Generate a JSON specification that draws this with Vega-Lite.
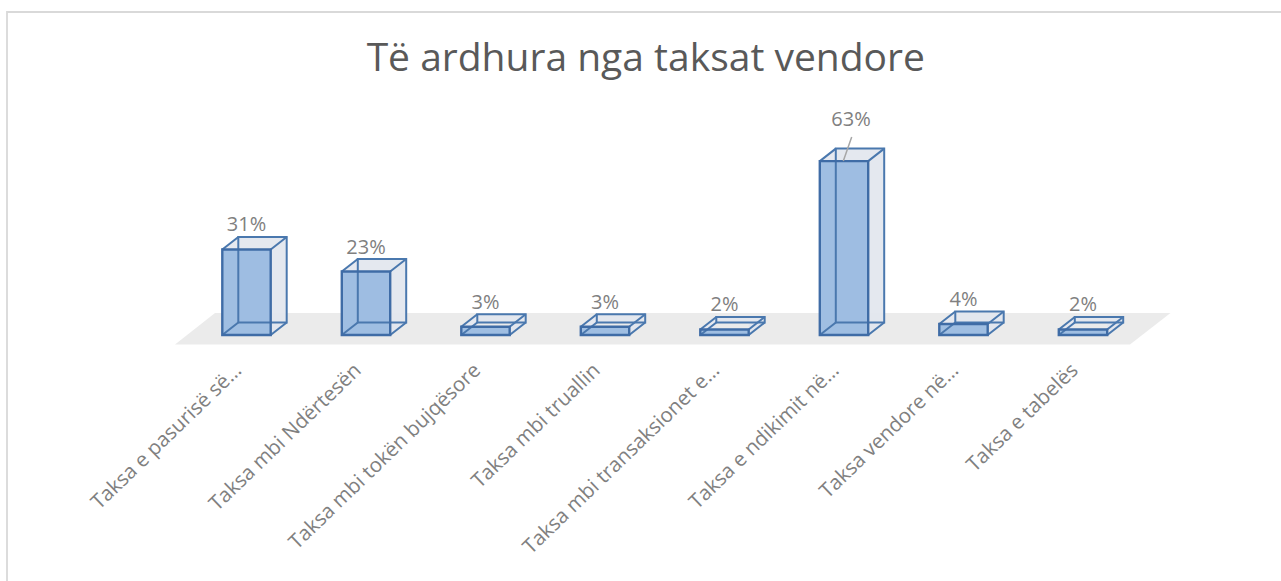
{
"$schema":"https://vega.github.io/schema/vega-lite/v6.json",
"width":956,"height":193.2,
"autosize":{"type":"none"},
"padding":{"left":186.75,"right":138.25,"top":141.8,"bottom":246},
"background":"#ffffff",
"config":{"view":{"stroke":null},"font":"Open Sans"},
"title":{"text":"Të ardhura nga taksat vendore","font":"Open Sans","fontSize":39,"fontWeight":"normal","color":"#595959","anchor":"middle","frame":"group","dx":-19,"offset":-110,"baseline":"bottom","limit":900},
"data":{"values":[
{"taksa":"Taksa e pasurisë së…","vlera":0.31},
{"taksa":"Taksa mbi Ndërtesën","vlera":0.23},
{"taksa":"Taksa mbi tokën bujqësore","vlera":0.03},
{"taksa":"Taksa mbi truallin","vlera":0.03},
{"taksa":"Taksa mbi transaksionet e…","vlera":0.02},
{"taksa":"Taksa e ndikimit në…","vlera":0.63},
{"taksa":"Taksa vendore në…","vlera":0.04},
{"taksa":"Taksa e tabelës","vlera":0.02}
]},
"encoding":{
"x":{"field":"taksa","type":"nominal","sort":null,"scale":{"paddingInner":0,"paddingOuter":0},"axis":{"title":null,"domain":false,"ticks":false,"grid":false,"labelAngle":-44,"labelAlign":"right","labelBaseline":"middle","labelFont":"Open Sans","labelFontSize":20.4,"labelColor":"#808080","labelPadding":32,"labelOffset":-8,"labelLimit":400,"labelOverlap":false}},
"y":{"field":"vlera","type":"quantitative","scale":{"domain":[0,0.7],"nice":false},"axis":null}
},
"layer":[
{"transform":[{"filter":"datum.vlera==0.31"}],
 "mark":{"type":"point","shape":"M-71.5,9.5L-31.5,-22L924,-22L883.5,9.5Z","size":4,"filled":true,"fill":"#ebebeb","opacity":1,"strokeWidth":0},
 "encoding":{"y":{"datum":0}}},
{"transform":[{"filter":"datum.vlera==0.31"}],
 "mark":{"type":"point","shape":"M1040,-323L-239.5,-323L-239.5,250","size":4,"filled":false,"fill":null,"stroke":"#d9d9d9","strokeWidth":1.8,"opacity":1},
 "encoding":{"y":{"datum":0}}},
{"mark":{"type":"bar","width":48.4,"xOffset":16,"yOffset":-12.5,"y2Offset":-12.5,"fill":"#e2e6ee","fillOpacity":0.92,"strokeWidth":0}},
{"mark":{"type":"point","shape":"M-24.2,0L-8.2,-12.5L-8.2,0Z","size":4,"filled":true,"fill":"#e6e9f0","opacity":1,"strokeWidth":0}},
{"mark":{"type":"point","shape":"M24.2,0L40.2,-12.5L24.2,-12.5Z","size":4,"filled":true,"fill":"#e2e6ee","opacity":1,"strokeWidth":0},"encoding":{"y":{"datum":0}}},
{"mark":{"type":"bar","width":48.4,"fill":"#9bbbe1","fillOpacity":0.96,"strokeWidth":0}},
{"mark":{"type":"bar","width":48.4,"xOffset":16,"yOffset":-12.5,"y2Offset":-12.5,"fillOpacity":0,"stroke":"#4a78ae","strokeWidth":2}},
{"mark":{"type":"point","shape":"M-24.2,0L-8.2,-12.5M24.2,0L40.2,-12.5","size":4,"filled":false,"fill":null,"stroke":"#4a78ae","strokeWidth":2,"opacity":1}},
{"mark":{"type":"point","shape":"M-24.2,0L-8.2,-12.5M24.2,0L40.2,-12.5","size":4,"filled":false,"fill":null,"stroke":"#4a78ae","strokeWidth":2,"opacity":1},"encoding":{"y":{"datum":0}}},
{"mark":{"type":"bar","width":48.4,"fillOpacity":0,"stroke":"#3f6ca6","strokeWidth":2.4}},
{"transform":[{"filter":"datum.vlera>0.5"}],
 "mark":{"type":"point","shape":"M7.7,-24L-0.7,0","size":4,"filled":false,"fill":null,"stroke":"#a6a6a6","strokeWidth":1.5,"opacity":1}},
{"transform":[{"filter":"datum.vlera<=0.5"}],
 "mark":{"type":"text","font":"Open Sans","fontSize":20,"color":"#808080","dy":-24,"baseline":"middle"},
 "encoding":{"text":{"field":"vlera","type":"quantitative","format":".0%"}}},
{"transform":[{"filter":"datum.vlera>0.5"}],
 "mark":{"type":"text","font":"Open Sans","fontSize":20,"color":"#808080","dy":-41,"dx":7,"baseline":"middle"},
 "encoding":{"text":{"field":"vlera","type":"quantitative","format":".0%"}}}
]
}
